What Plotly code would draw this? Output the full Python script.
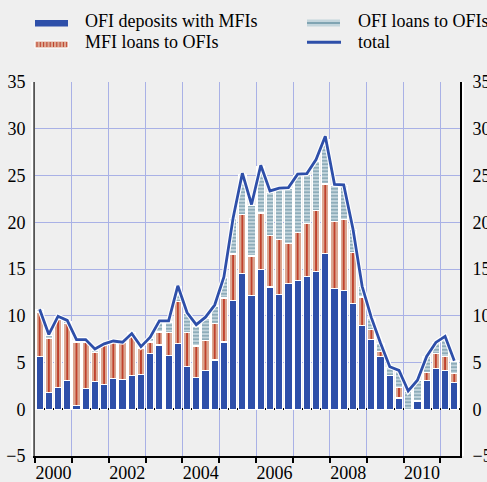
import plotly.graph_objects as go

# quarterly data, 2000 Q1 .. 2011 Q2 (EUR bn, annual flows)
quarters = [2000.125 + 0.25 * i for i in range(46)]

ofi_deposits = [5.6, 1.8, 2.3, 3.07, 0.4, 2.2, 2.96, 2.64, 3.28, 3.17, 3.6, 3.72,
                5.95, 6.88, 5.74, 7.0, 4.56, 3.39, 4.14, 5.27, 7.2, 11.6, 14.5, 12.2,
                14.94, 13.08, 12.27, 13.44, 13.8, 14.19, 14.76, 16.7, 12.94, 12.73, 11.3, 8.98,
                7.45, 5.6, 3.6, 1.2, 0.0, 0.89, 3.1, 4.35, 4.17, 2.85]
mfi_loans = [4.8, 5.8, 7.3, 6.13, 6.7, 5.0, 3.14, 4.26, 3.89, 3.93, 4.6, 2.78,
             1.25, 1.39, 2.46, 4.5, 3.64, 3.38, 3.24, 3.93, 4.7, 5.0, 6.35, 4.2,
             6.06, 5.52, 5.88, 4.26, 5.1, 5.67, 6.49, 7.4, 7.16, 7.57, 5.5, 3.02,
             1.07, 0.6, 0.0, 1.1, 0.0, 0.0, 0.8, 1.6, 1.5, 0.95]
ofi_loans = [0.3, 0.3, 0.3, 0.2, 0.2, 0.15, 0.2, 0.1, 0.08, 0.05, 0.0, 0.1,
             0.36, 1.07, 1.14, 1.6, 2.0, 2.13, 2.32, 1.85, 2.2, 3.8, 4.25, 5.4,
             4.9, 4.6, 5.35, 5.9, 6.1, 5.24, 5.31, 4.7, 3.86, 3.66, 2.45, 1.1,
             1.18, 0.8, 0.9, 1.8, 1.9, 2.21, 1.7, 1.15, 2.06, 1.37]
total = [10.7, 8.0, 9.95, 9.5, 7.45, 7.45, 6.45, 7.0, 7.3, 7.17, 8.1, 6.7,
         7.7, 9.45, 9.45, 13.2, 10.35, 9.05, 9.85, 11.15, 14.15, 20.45, 25.25, 21.9,
         26.1, 23.35, 23.65, 23.7, 25.15, 25.2, 26.7, 29.2, 24.05, 24.0, 19.3, 13.15,
         9.8, 7.05, 4.55, 4.15, 1.95, 3.1, 5.65, 7.15, 7.8, 5.2]

year_grid = list(range(2000, 2012))
year_labels = ["2000", "2002", "2004", "2006", "2008", "2010"]

W, H = 487, 482
L, R, T, B = 35, 27, 82, 26
PW, PH = W - L - R, H - T - B
X0, X1 = 2000.0, 2011.53
QPX = PW / (X1 - X0) / 4  # pixel width of one quarter

BLUE = "#2e4fa9"
SALMON = "#dba792"
RED = "#c0412c"
LIGHT = "#c3d5dc"
TEAL = "#6a93a4"
GRID = "#a9b1e6"
BG = "#efefef"
FONT = "Liberation Serif, Times New Roman, serif"


def px(x):
    return (x - L) / PW


def py(y):
    return (H - B - y) / PH


fig = go.Figure()

fig.add_trace(go.Bar(x=quarters, y=ofi_deposits, name="OFI deposits with MFIs",
                     marker=dict(color=BLUE, line=dict(color="white", width=1.2)),
                     showlegend=False))
fig.add_trace(go.Bar(x=quarters, y=mfi_loans, name="MFI loans to OFIs",
                     marker=dict(color=SALMON, line=dict(color="white", width=1.2),
                                 pattern=dict(shape="|", size=QPX, solidity=0.2,
                                              fgcolor=RED, bgcolor=SALMON, fgopacity=1)),
                     showlegend=False))
fig.add_trace(go.Bar(x=quarters, y=ofi_loans, name="OFI loans to OFIs",
                     marker=dict(color=LIGHT, line=dict(color="white", width=1.2),
                                 pattern=dict(shape="-", size=3.5, solidity=0.3,
                                              fgcolor=TEAL, bgcolor=LIGHT, fgopacity=1)),
                     showlegend=False))
fig.add_trace(go.Scatter(x=quarters, y=total, mode="lines", xaxis="x2", yaxis="y2",
                         line=dict(color="white", width=5), hoverinfo="skip",
                         showlegend=False))
fig.add_trace(go.Scatter(x=quarters, y=total, name="total", mode="lines", xaxis="x2", yaxis="y2",
                         line=dict(color=BLUE, width=2.8), showlegend=False))

tick_font = dict(family=FONT, size=18, color="black")

fig.update_layout(
    width=W, height=H,
    margin=dict(l=L, r=R, t=T, b=B, autoexpand=False),
    paper_bgcolor=BG, plot_bgcolor=BG,
    barmode="stack", bargap=0.2,
    font=dict(family=FONT, size=18, color="black"),
    xaxis=dict(range=[X0, X1], tickvals=year_grid, showticklabels=False,
               showgrid=True, gridcolor=GRID, gridwidth=1,
               ticks="outside", ticklen=5, tickcolor="black", tickwidth=1.5,
               showline=True, linecolor="black", linewidth=1.5, zeroline=False),
    xaxis2=dict(range=[X0, X1], overlaying="x", anchor="y2", side="bottom",
                tickvals=[int(y) + 0.5 for y in year_labels], ticktext=year_labels,
                showgrid=False, zeroline=False, showline=False, ticks="",
                tickfont=tick_font, ticklabelstandoff=4),
    yaxis=dict(range=[-5, 35], dtick=5, tick0=0, showgrid=True, gridcolor=GRID, gridwidth=1,
               zeroline=True, zerolinecolor="black", zerolinewidth=2,
               showline=True, linecolor="#555555", linewidth=2, ticks="",
               tickfont=tick_font, ticklabelstandoff=4),
    yaxis2=dict(range=[-5, 35], dtick=5, tick0=0, overlaying="y", side="right",
                showgrid=False, zeroline=False, showline=True, linecolor="black",
                linewidth=2, ticks="", tickfont=tick_font, ticklabelstandoff=7),
)

# hand drawn legend (two columns, wide flat keys)
shapes = [
    dict(type="line", xref="paper", yref="paper", x0=px(32.2), x1=px(32.2), y0=0, y1=1,
         line=dict(color="white", width=2)),
    dict(type="line", xref="paper", yref="paper", x0=px(463), x1=px(463), y0=0, y1=1,
         line=dict(color="white", width=2)),
    dict(type="rect", xref="paper", yref="paper", x0=px(35), x1=px(68), y0=py(26.5), y1=py(20),
         fillcolor=BLUE, line=dict(width=0)),
    dict(type="rect", xref="paper", yref="paper", x0=px(35), x1=px(68), y0=py(48), y1=py(41),
         fillcolor=SALMON, line=dict(color="white", width=1)),
    dict(type="rect", xref="paper", yref="paper", x0=px(307), x1=px(340), y0=py(26.5), y1=py(19.5),
         fillcolor=LIGHT, line=dict(width=0)),
    dict(type="line", xref="paper", yref="paper", x0=px(307), x1=px(340), y0=py(23), y1=py(23),
         line=dict(color=TEAL, width=1.5)),
    dict(type="line", xref="paper", yref="paper", x0=px(307), x1=px(341), y0=py(42.3), y1=py(42.3),
         line=dict(color=BLUE, width=3)),
]
for i in range(10):
    xx = 37 + i * 3.3
    shapes.append(dict(type="line", xref="paper", yref="paper", x0=px(xx), x1=px(xx),
                       y0=py(47), y1=py(42), line=dict(color=RED, width=1)))
fig.update_layout(shapes=shapes)

legend_items = [("OFI deposits with MFIs", 82.5, 21.5), ("MFI loans to OFIs", 82.5, 42.5),
                ("OFI loans to OFIs", 356, 21.5), ("total", 356, 42.5)]
for text, lx, ly in legend_items:
    fig.add_annotation(text=text, xref="paper", yref="paper", x=px(lx), y=py(ly),
                       xanchor="left", yanchor="middle", showarrow=False,
                       font=dict(family=FONT, size=18, color="black"))

# the page's default body margin would shift the figure by 8px
fig.write_html("out.html", config={"displayModeBar": False},
               post_script="document.body.style.margin='0';document.body.style.background='#efefef';")
